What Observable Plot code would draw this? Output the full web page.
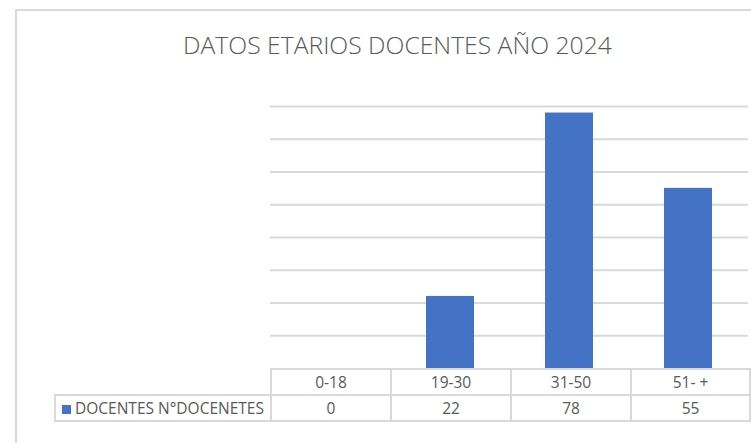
<!DOCTYPE html>
<html>
<head>
<meta charset="utf-8">
<script src="https://cdn.jsdelivr.net/npm/d3@7"></script>
<script src="https://cdn.jsdelivr.net/npm/@observablehq/plot@0.6"></script>
<style>
  html, body { margin: 0; padding: 0; background: #fff; }
  body { width: 751px; height: 443px; position: relative; overflow: hidden; font-family: "Open Sans", sans-serif; color: #595959; }
  #frame { position: absolute; left: 15px; top: 9px; width: 800px; height: 500px; border-left: 2px solid #d9d9d9; border-top: 2px solid #d9d9d9; }
  #title { position: absolute; left: 0; width: 795px; top: 28px; text-align: center; font-size: 24.7px; font-weight: 300; color: #595959; white-space: nowrap; }
  #chart { position: absolute; left: 0; top: 0; }
  #tbl { position: absolute; left: 54px; top: 368px; border-collapse: collapse; table-layout: fixed; width: 695px; font-size: 15.5px; color: #595959; }
  #tbl td { border: 2px solid #d9d9d9; height: 24px; padding: 0; text-align: center; white-space: nowrap; }
  #tbl td.blank { border: none; }
  #tbl td.leg { text-align: left; padding-left: 6px; }
  .sw { display: inline-block; width: 9px; height: 9px; background: #4472c4; margin-right: 4px; vertical-align: 0px; }
</style>
</head>
<body>
<div id="frame"></div>
<div id="title"></div>
<div id="chart"></div>
<table id="tbl"></table>
<script>
const titleText = "DATOS ETARIOS DOCENTES AÑO 2024";
const categories = ["0-18", "19-30", "31-50", "51- +"];
const values = [0, 22, 78, 55];
const seriesName = "DOCENTES N°DOCENETES";
const gridTicks = [10, 20, 30, 40, 50, 60, 70, 80];
const barColor = "#4472c4";

document.getElementById("title").textContent = titleText;

const data = categories.map((c, i) => ({cat: c, value: values[i]}));

const chart = Plot.plot({
  width: 751,
  height: 443,
  marginLeft: 270,
  marginRight: 3,
  marginTop: 106,
  marginBottom: 75,
  x: {domain: categories, paddingInner: 0.6, paddingOuter: 0.3, axis: null},
  y: {domain: [0, 80], axis: null},
  style: {background: "transparent", overflow: "visible"},
  marks: [
    Plot.ruleY(gridTicks, {stroke: "#d9d9d9", strokeWidth: 2, strokeOpacity: 1}),
    Plot.barY(data, {x: "cat", y: "value", fill: barColor})
  ]
});
document.getElementById("chart").appendChild(chart);

// data table
const tbl = document.getElementById("tbl");
const colgroup = document.createElement("colgroup");
[216, 120, 120, 120, 119].forEach(w => {
  const c = document.createElement("col");
  c.style.width = w + "px";
  colgroup.appendChild(c);
});
tbl.appendChild(colgroup);
const r1 = document.createElement("tr");
const blank = document.createElement("td");
blank.className = "blank";
r1.appendChild(blank);
categories.forEach(c => {
  const td = document.createElement("td");
  td.textContent = c;
  r1.appendChild(td);
});
tbl.appendChild(r1);
const r2 = document.createElement("tr");
const leg = document.createElement("td");
leg.className = "leg";
const sw = document.createElement("span");
sw.className = "sw";
leg.appendChild(sw);
leg.appendChild(document.createTextNode(seriesName));
r2.appendChild(leg);
values.forEach(v => {
  const td = document.createElement("td");
  td.textContent = String(v);
  r2.appendChild(td);
});
tbl.appendChild(r2);
</script>
</body>
</html>
